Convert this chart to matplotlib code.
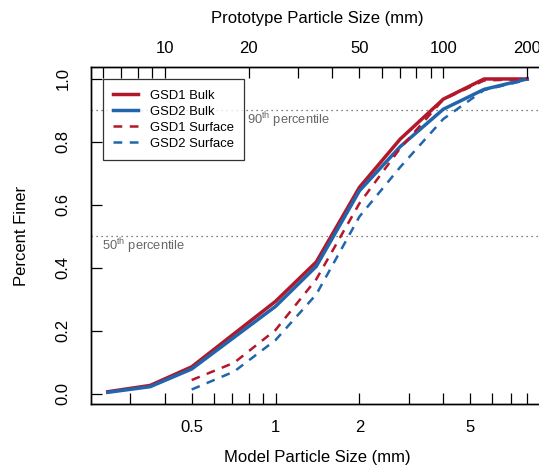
import matplotlib
matplotlib.use("Agg")
import matplotlib.pyplot as plt
import numpy as np

plt.rcParams['font.family'] = ['Liberation Sans', 'DejaVu Sans']
plt.rcParams['mathtext.fontset'] = 'custom'
plt.rcParams['mathtext.rm'] = 'Liberation Sans'

# ---- data ----
bulk_sizes = [0.25, 0.355, 0.5, 1.0, 1.4, 2.0, 2.8, 4.0, 5.6, 8.0]
gsd1_bulk = [0.007, 0.027, 0.086, 0.294, 0.419, 0.656, 0.809, 0.936, 1.0, 1.0]
gsd2_bulk = [0.005, 0.023, 0.079, 0.278, 0.405, 0.645, 0.785, 0.904, 0.967, 1.0]

surf_sizes = [0.5, 0.71, 1.0, 1.4, 2.0, 2.8, 4.0, 5.6, 8.0]
gsd1_surf = [0.044, 0.099, 0.203, 0.364, 0.605, 0.78, 0.935, 0.995, 1.0]
gsd2_surf = [0.014, 0.071, 0.171, 0.316, 0.563, 0.72, 0.873, 0.965, 0.997]

scale = 25.0  # prototype / model
bottom_ticks = [0.3, 0.4, 0.5, 0.6, 0.7, 0.8, 0.9, 1, 2, 3, 4, 5, 6, 7, 8, 9]
bottom_labels = {0.5: '0.5', 1: '1', 2: '2', 5: '5'}
top_ticks = [6, 7, 8, 9, 10, 20, 30, 40, 50, 60, 70, 80, 90, 100, 200]
top_labels = {10: '10', 20: '20', 50: '50', 100: '100', 200: '200'}
y_ticks = [0.0, 0.2, 0.4, 0.6, 0.8, 1.0]

RED = '#B2182B'
BLUE = '#2166AC'

W, H = 539, 469
fig = plt.figure(figsize=(W / 100, H / 100), dpi=100)
L, R, T, B = 91, 544, 67, 404
ax = fig.add_axes([L / W, 1 - B / H, (R - L) / W, (B - T) / H])

ax.axhline(0.9, color='#555555', lw=0.9, ls=(0, (1, 3)), zorder=1)
ax.axhline(0.5, color='#555555', lw=0.9, ls=(0, (1, 3)), zorder=1)

ax.plot(bulk_sizes, gsd1_bulk, color=RED, lw=2.5, label='GSD1 Bulk', zorder=3)
ax.plot(bulk_sizes, gsd2_bulk, color=BLUE, lw=2.5, label='GSD2 Bulk', zorder=3)
ax.plot(surf_sizes, gsd1_surf, color=RED, lw=1.8, ls=(0, (3.5, 3)), label='GSD1 Surface', zorder=3)
ax.plot(surf_sizes, gsd2_surf, color=BLUE, lw=1.8, ls=(0, (3.5, 3)), label='GSD2 Surface', zorder=3)

ax.set_xscale('log')
lo, hi = np.log10(bulk_sizes[0]), np.log10(bulk_sizes[-1])
pad = 0.04 * (hi - lo)
xlim = (10 ** (lo - pad), 10 ** (hi + pad))
ax.set_xlim(xlim)
ax.set_ylim(-0.032, 1.038)

ax.set_xticks(bottom_ticks)
ax.set_xticklabels([bottom_labels.get(t, '') for t in bottom_ticks])
ax.xaxis.set_minor_locator(matplotlib.ticker.NullLocator())
ax.set_yticks(y_ticks)
ax.set_yticklabels(['%.1f' % v for v in y_ticks], rotation=90, va='center')
ax.tick_params(axis='x', direction='in', length=8, width=0.9, labelsize=12, pad=11.5)
ax.tick_params(axis='y', direction='in', length=8, width=0.9, labelsize=12, pad=14.5)

ax2 = ax.twiny()
ax2.set_xscale('log')
ax2.set_xlim(xlim[0] * scale, xlim[1] * scale)
ax2.set_xticks(top_ticks)
ax2.set_xticklabels([top_labels.get(t, '') for t in top_ticks])
ax2.xaxis.set_minor_locator(matplotlib.ticker.NullLocator())
ax2.tick_params(axis='x', direction='in', length=8, width=0.9, labelsize=12, pad=8)

for a in (ax, ax2):
    for s in a.spines.values():
        s.set_linewidth(1.0)

ax.set_xlabel('Model Particle Size (mm)', fontsize=12, labelpad=11)
ax2.set_xlabel('Prototype Particle Size (mm)', fontsize=12, labelpad=13)
ax.set_ylabel('Percent Finer', fontsize=12, labelpad=19)

ax.text((247 - L) / (R - L), (B - 120) / (B - T), r'90$^{\rm th}$ percentile',
        transform=ax.transAxes, fontsize=9.3, color='#666666', va='center', ha='left')
ax.text((102 - L) / (R - L), (B - 246) / (B - T), r'50$^{\rm th}$ percentile',
        transform=ax.transAxes, fontsize=9.3, color='#666666', va='center', ha='left')

leg = ax.legend(loc='upper left', bbox_to_anchor=((103 - L) / (R - L), (B - 79) / (B - T)),
                borderaxespad=0, fontsize=9.4, frameon=True, fancybox=False,
                edgecolor='black', handlelength=1.9, handletextpad=0.9,
                labelspacing=0.3, borderpad=0.8)
leg.get_frame().set_linewidth(0.9)

fig.savefig('out.png', dpi=100)
